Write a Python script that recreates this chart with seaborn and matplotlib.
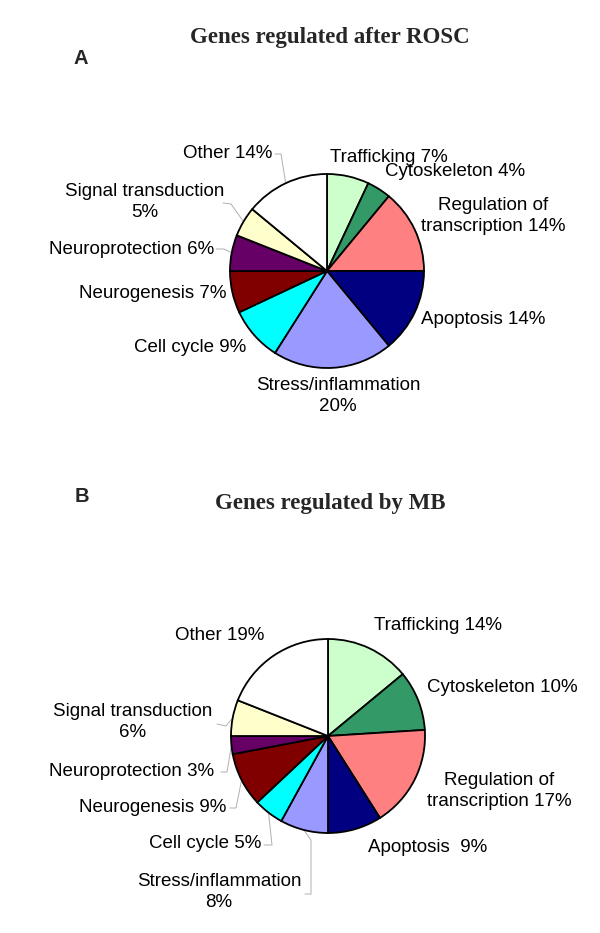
import matplotlib
matplotlib.use('Agg')
import matplotlib.pyplot as plt
import numpy as np
import seaborn as sns

# Data
categories = ['Trafficking', 'Cytoskeleton', 'Regulation of transcription', 'Apoptosis',
              'Stress/inflammation', 'Cell cycle', 'Neurogenesis', 'Neuroprotection',
              'Signal transduction', 'Other']
rosc_values = [7, 4, 14, 14, 20, 9, 7, 6, 5, 14]
mb_values = [14, 10, 17, 9, 8, 5, 9, 3, 6, 19]
rosc_labels = ['Trafficking 7%', 'Cytoskeleton 4%', 'Regulation of\ntranscription 14%',
               'Apoptosis 14%', 'Stress/inflammation\n20%', 'Cell cycle 9%',
               'Neurogenesis 7%', 'Neuroprotection 6%', 'Signal transduction\n5%', 'Other 14%']
mb_labels = ['Trafficking 14%', 'Cytoskeleton 10%', 'Regulation of\ntranscription 17%',
             'Apoptosis  9%', 'Stress/inflammation\n8%', 'Cell cycle 5%',
             'Neurogenesis 9%', 'Neuroprotection 3%', 'Signal transduction\n6%', 'Other 19%']
colors = ['#CCFFCC', '#339966', '#FF8080', '#000080', '#9999FF',
          '#00FFFF', '#800000', '#660066', '#FFFFCC', '#FFFFFF']

sns.set_theme(style='white')
plt.rcParams['font.family'] = ['Liberation Sans', 'DejaVu Sans']

W, H = 600, 933
fig = plt.figure(figsize=(6, 9.33), dpi=100)
ax = fig.add_axes([0, 0, 1, 1])


def Y(y):
    # pixel row (from top) -> data y
    return H - y


def draw_pie(values, labels, center, label_pos, leaders):
    wedges, _ = ax.pie(values, colors=colors, startangle=90, counterclock=False,
                       center=(center[0], Y(center[1])), radius=97,
                       wedgeprops=dict(edgecolor='black', linewidth=1.3))
    for lab, (x, y) in zip(labels, label_pos):
        ax.text(x, Y(y), lab, ha='center', va='center', fontsize=13.5,
                linespacing=1.35, color='black')
    # grey leader lines from label to wedge edge
    for idx, pts in leaders.items():
        w = wedges[idx]
        mid = np.deg2rad((w.theta1 + w.theta2) / 2)
        ex = w.center[0] + w.r * np.cos(mid)
        ey = w.center[1] + w.r * np.sin(mid)
        xs = [p[0] for p in pts] + [ex]
        ys = [Y(p[1]) for p in pts] + [ey]
        ax.plot(xs, ys, color='#b0b0b0', linewidth=0.7, zorder=0)


# Chart A
rosc_pos = [(389, 157), (455, 171), (493, 216), (483, 320), (338, 396),
            (190, 348), (153, 293), (132, 249), (145, 202), (228, 154)]
rosc_leaders = {9: [(275, 154), (281, 154)],
                8: [(223, 203), (231, 204)],
                7: [(216, 249), (224, 249)]}
draw_pie(rosc_values, rosc_labels, (327, 271), rosc_pos, rosc_leaders)

# Chart B
mb_pos = [(438, 626), (502, 687), (499, 791), (428, 847), (219, 892),
          (205, 844), (153, 807), (132, 771), (133, 722), (220, 636)]
mb_leaders = {8: [(217, 724), (226, 726)],
              7: [(221, 772), (227, 772)],
              6: [(230, 808), (236, 808)],
              5: [(264, 845), (272, 845)],
              4: [(305, 894), (311, 894), (311, 840)]}
draw_pie(mb_values, mb_labels, (328, 736), mb_pos, mb_leaders)

# Titles and panel letters
ax.text(330, Y(38), 'Genes regulated after ROSC', ha='center', va='center',
        fontsize=16.5, fontweight='bold', family=['Liberation Serif', 'DejaVu Serif'])
ax.text(330, Y(503), 'Genes regulated by MB', ha='center', va='center',
        fontsize=16.5, fontweight='bold', family=['Liberation Serif', 'DejaVu Serif'])
ax.text(81, Y(58), 'A', ha='center', va='center', fontsize=14.5, fontweight='bold')
ax.text(82, Y(497), 'B', ha='center', va='center', fontsize=14.5, fontweight='bold')

ax.set_xlim(0, W)
ax.set_ylim(0, H)
ax.set_aspect('equal')
ax.axis('off')

fig.savefig('out.png', dpi=100, facecolor='white')
